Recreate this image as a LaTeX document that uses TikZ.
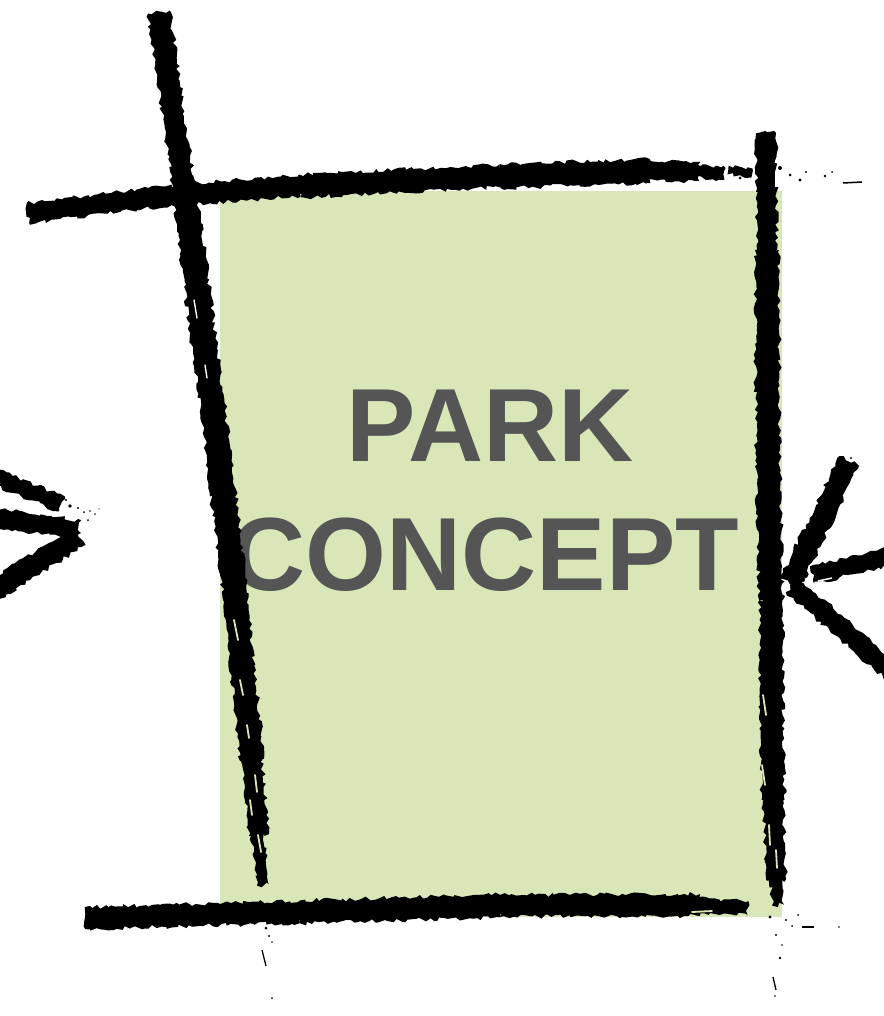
\documentclass[tikz,border=0pt]{standalone}
\usepackage{fontspec}
\setmainfont{Liberation Sans}
\usetikzlibrary{calc,decorations.pathmorphing}
\definecolor{parkgreen}{HTML}{D9E7B8}
\definecolor{textgray}{HTML}{555555}
% rough brush segment: [options]{A}{B}{half width}
\newcommand\brush[4][]{\fill[black,#1,decorate,decoration={random steps,segment length=4pt,amplitude=2.2pt}]
  ($(#2)!#4!90:(#3)$) -- ($(#3)!#4!-90:(#2)$) -- ($(#3)!#4!90:(#2)$) -- ($(#2)!#4!-90:(#3)$) -- cycle;}
\tikzset{
  core/.style={draw=black,line join=round,line cap=round},
  speck/.style={fill=black},
  streak/.style={draw=parkgreen,line width=1.8pt,line cap=round},
  whitestreak/.style={draw=white,line width=1.4pt,line cap=round},
  label/.style={font=\fontsize{104}{110}\selectfont\bfseries,text=textgray,inner sep=0pt,anchor=base}
}
\begin{document}
\begin{tikzpicture}[x=1pt,y=-1pt]
\pgfmathsetseed{12}
\useasboundingbox (0,0) rectangle (883,1016);
% green field
\fill[parkgreen] (220,191) rectangle (782,917);
% text
\node[label] (park) at (490,461) {PARK};
\node[label] (concept) at (485,590) {CONCEPT};

% ---------- left vertical stroke ----------
\draw[core,line width=18pt] (160,24) -- (185,195) -- (218,450) -- (236,600) -- (250,760);
\draw[core,line width=13pt] (250,760) -- (258,830);
\brush{159,12}{185,195}{11pt}
\brush{185,195}{218,450}{12.5pt}
\brush{218,450}{236,600}{12.5pt}
\brush{236,600}{252,760}{12pt}
\brush{251,750}{259,835}{10pt}
\brush{257,830}{263,885}{6pt}
% dry-brush streaks on the left stroke
\draw[whitestreak] (194,300) -- (197,318);
\draw[whitestreak] (205,365) -- (207,378);
\draw[streak] (234,620) -- (238,640);
\draw[streak] (240,680) -- (243,695);
\draw[streak] (247,725) -- (249,738);
\draw[streak] (255,775) -- (257,792);
\draw[streak] (250,800) -- (252,815);
\draw[streak] (258,835) -- (261,852);

% ---------- top horizontal stroke ----------
\draw[core,line width=16pt] (36,212) -- (185,194) -- (300,186) -- (500,176) -- (650,171) -- (690,171);
\brush{28,213}{185,194}{10pt}
\brush{185,194}{300,186}{10.5pt}
\brush{300,186}{500,176}{11.5pt}
\brush{500,176}{650,171}{12pt}
\brush{650,171}{700,172}{10pt}
\brush{695,171}{725,174}{6pt}
\brush{728,170}{752,173}{4.5pt}
\draw[whitestreak] (692,182) -- (710,181);

% ---------- right vertical stroke ----------
\draw[core,line width=17pt] (766,145) -- (767,250) -- (768,450) -- (771,600) -- (773,800);
\brush{766,133}{767,250}{10pt}
\brush{767,250}{768,450}{12pt}
\brush{768,450}{771,600}{12pt}
\brush{771,600}{773,800}{11.5pt}
\brush{773,800}{776,880}{10pt}
\brush{776,875}{778,905}{6pt}
\draw[streak] (763,695) -- (766,715);
\draw[streak] (762,765) -- (765,785);
\draw[streak] (769,825) -- (770,845);
\draw[streak] (776,850) -- (777,868);

% ---------- bottom horizontal stroke ----------
\draw[core,line width=16pt] (94,917) -- (300,912) -- (500,906) -- (690,905);
\brush{85,918}{300,912}{11pt}
\brush{300,912}{500,906}{11.5pt}
\brush{500,906}{700,905}{11pt}
\brush{690,905}{748,908}{7pt}
\draw[streak] (692,912) -- (712,911);

% ---------- left arrow ----------
\brush{-6,477}{62,504}{8pt}
\brush{-6,518}{80,530}{9.5pt}
\brush{80,536}{-6,590}{10.5pt}
\foreach \p/\r in {{70,506}/1.8,{78,508}/1.2,{84,512}/1,{90,511}/0.9,{95,514}/0.8,{99,509}/0.7,{66,500}/1.2,{88,520}/1}
  \fill[speck] (\p) circle (\r pt);

% ---------- right arrow ----------
\brush{849,461}{790,583}{11pt}
\brush{792,585}{892,672}{9.5pt}
\brush{812,575}{892,556}{9pt}
\foreach \p/\r in {{803,580}/2,{798,582}/1.5,{818,568}/1.2,{851,458}/1.2,{846,470}/1}
  \fill[speck] (\p) circle (\r pt);
\draw[draw=white,line width=1.5pt] (818,581) -- (832,578);

% ---------- faded speckles ----------
\foreach \p/\r in {{780,168}/2,{790,175}/1.5,{800,180}/1.6,{806,172}/1.2,{825,176}/1.3,{832,172}/1,{762,176}/1.5,{740,178}/1.5}
  \fill[speck] (\p) circle (\r pt);
\draw[black,line width=1.5pt] (843,183) -- (862,182);
\foreach \p/\r in {{266,928}/1.5,{269,936}/1.2,{272,942}/0.8,{272,998}/1,{775,996}/0.8,{780,958}/1.3,{770,917}/1.6,{786,920}/1.2,{792,926}/1,{776,935}/1.2,{782,945}/0.8,{839,927}/0.8,{798,915}/1}
  \fill[speck] (\p) circle (\r pt);
\draw[black,line width=1.3pt] (262,950) -- (266,966);
\draw[black,line width=1.3pt] (773,977) -- (776,990);
\draw[black,line width=1.2pt] (802,927) -- (814,927);
\end{tikzpicture}
\end{document}
